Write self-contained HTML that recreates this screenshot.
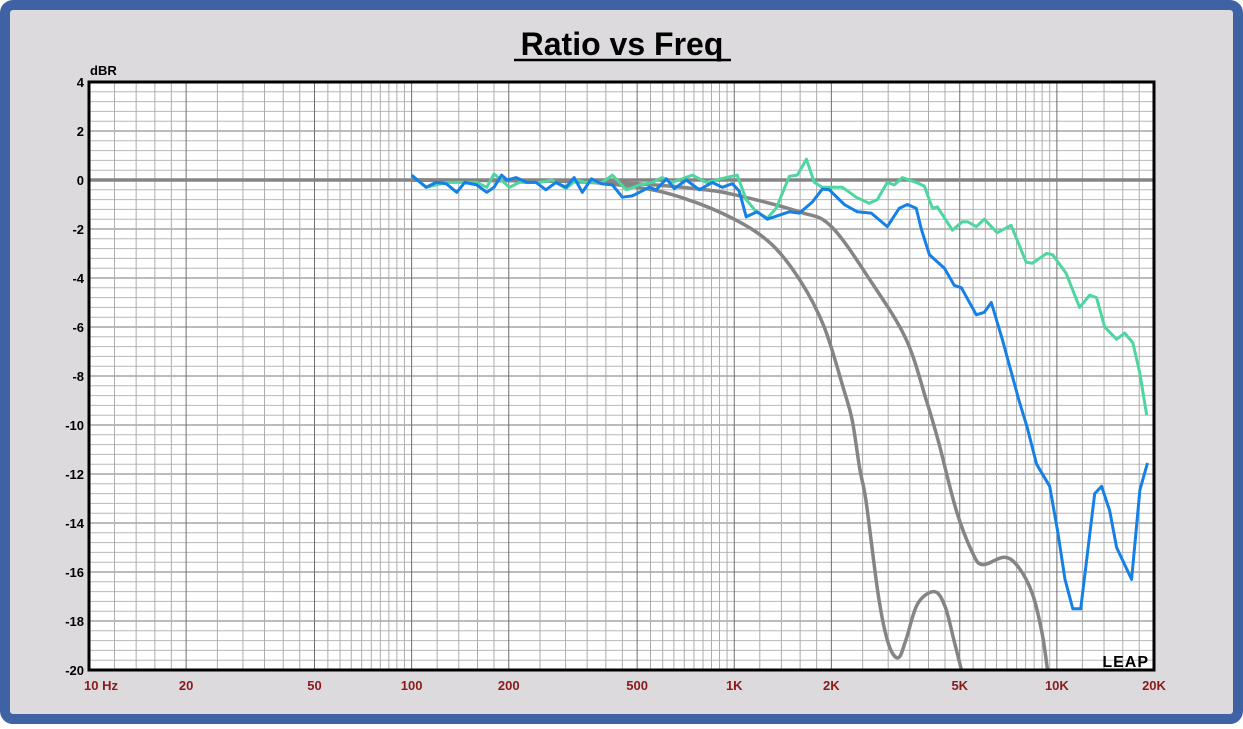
<!DOCTYPE html>
<html><head><meta charset="utf-8"><style>
html,body{margin:0;padding:0;background:#fff}
svg{display:block;font-family:"Liberation Sans",Arial,sans-serif}
</style></head><body>
<svg id="chart" width="1243" height="729" viewBox="0 0 1243 729">
<rect x="0" y="0" width="1243" height="729" fill="#ffffff"/>
<rect x="5" y="5" width="1233" height="714" rx="8" fill="#dcdadd" stroke="#3f62a4" stroke-width="10"/>
<text x="622" y="55" text-anchor="middle" font-size="32" font-weight="bold" fill="#000">Ratio vs Freq</text>
<line x1="514" y1="60" x2="731" y2="60" stroke="#000" stroke-width="2.5"/>
<text x="90" y="75" font-size="13" font-weight="bold" fill="#000">dBR</text>
<g id="plot"></g>
</svg>
<script>
const yTicks=[4,2,0,-2,-4,-6,-8,-10,-12,-14,-16,-18,-20];
const xTickVals=[10,20,50,100,200,500,1000,2000,5000,10000,20000];
const xTickLabels=["10  Hz","20","50","100","200","500","1K","2K","5K","10K","20K"];
const grayAFreq=[100,300,500,700,1000,1300,1600,1900,2190,2320,2450,2560,2800,3000,3220,3400,3700,4170,4500,4800,5060];
const grayADb=[0,-0.05,-0.3,-0.75,-1.6,-2.6,-4.1,-6.0,-8.6,-9.8,-11.8,-13.1,-17.0,-18.9,-19.5,-18.8,-17.3,-16.8,-17.4,-18.8,-20];
const grayBFreq=[100,300,500,780,1000,1590,2000,2670,3410,3940,4300,4880,5470,5880,6870,7600,8400,9000,9350];
const grayBDb=[0,-0.05,-0.15,-0.37,-0.6,-1.3,-1.9,-4.2,-6.5,-9,-10.7,-13.5,-15.2,-15.7,-15.4,-15.8,-16.9,-18.5,-20];
const blueFreq=[100,111,119,128,138,146,159,171,180,190,198,211,227,243,261,280,301,319,338,361,387,419,450,483,508,545,573,616,652,710,779,855,918,986,1036,1089,1178,1266,1481,1591,1745,1875,1970,2194,2406,2659,2981,3248,3442,3665,3801,4026,4481,4810,5059,5626,5957,6261,6775,7630,8090,8650,9500,10070,10600,11200,11850,13100,13760,14580,15320,17050,18080,19090];
const blueDb=[0.2,-0.3,-0.1,-0.15,-0.5,-0.1,-0.2,-0.5,-0.3,0.2,0,0.1,-0.1,-0.1,-0.4,-0.1,-0.3,0.1,-0.5,0.05,-0.15,-0.2,-0.7,-0.65,-0.5,-0.3,-0.4,0.05,-0.35,0,-0.4,-0.1,-0.3,-0.15,-0.45,-1.5,-1.3,-1.6,-1.3,-1.35,-0.9,-0.37,-0.4,-1.0,-1.3,-1.35,-1.9,-1.15,-1.0,-1.15,-2.0,-3.05,-3.6,-4.3,-4.4,-5.5,-5.4,-5.0,-6.5,-9.0,-10.1,-11.6,-12.5,-14.4,-16.3,-17.5,-17.5,-12.8,-12.5,-13.5,-15.0,-16.3,-12.65,-11.55];
const greenFreq=[100,111,128,146,159,171,180,201,216,249,272,301,324,348,390,419,463,508,557,598,642,741,819,945,1021,1089,1170,1266,1349,1481,1568,1673,1770,1875,2163,2387,2620,2775,2981,3134,3318,3665,3885,4112,4264,4743,5095,5280,5626,5957,6533,7215,8030,8390,9290,9700,10670,11760,12640,13270,14070,15320,16230,17200,18080,18990];
const greenDb=[0.2,-0.3,-0.1,-0.1,-0.1,-0.3,0.25,-0.3,-0.1,-0.1,0,-0.35,0,-0.1,-0.1,0.2,-0.4,-0.2,-0.1,0.1,-0.1,0.2,-0.1,0.1,0.2,-0.8,-1.3,-1.55,-1.15,0.15,0.2,0.85,-0.1,-0.3,-0.3,-0.7,-0.95,-0.8,-0.1,-0.2,0.1,-0.1,-0.25,-1.15,-1.1,-2.05,-1.7,-1.7,-1.9,-1.6,-2.15,-1.85,-3.35,-3.4,-3.0,-3.05,-3.8,-5.2,-4.7,-4.8,-6.0,-6.5,-6.25,-6.65,-7.9,-9.6];

const NS="http://www.w3.org/2000/svg";
const L=89,R=1154,T=82,B=670;
const fmin=10,fmax=20000,dmax=4,dmin=-20;
function xs(f){return L+(Math.log10(f)-Math.log10(fmin))/(Math.log10(fmax)-Math.log10(fmin))*(R-L);}
function ys(d){return T+(dmax-d)/(dmax-dmin)*(B-T);}
const g=document.getElementById('plot');
function mk(tag,attrs){const e=document.createElementNS(NS,tag);for(const k in attrs)e.setAttribute(k,attrs[k]);g.appendChild(e);return e;}

const bg=mk('rect',{x:L,y:T,width:R-L,height:B-T,fill:'#ffffff'});



for(let i=0;i<=60;i++){
  const d=dmax-i*0.4;
  const major=(i%5===0);
  const ln=mk('line',{x1:L,x2:R,y1:ys(d),y2:ys(d),stroke:major?'#7a7a7a':'#b8b8b8','stroke-width':1});
  
  
}
const mult=[1,1.2,1.4,1.6,1.8,2,2.5,3,3.5,4,4.5,5,5.5,6,6.5,7,7.5,8,8.5,9,9.5];
for(let dec=10;dec<=10000;dec*=10){
  for(const m of mult){
    const f=dec*m; if(f>fmax) continue;
    const major=(m===1||m===2||m===5);
    const ln=mk('line',{x1:xs(f),x2:xs(f),y1:T,y2:B,stroke:major?'#6e6e6e':'#acacac','stroke-width':1});
    
    
  }
}
const zl=mk('line',{x1:L,x2:R,y1:ys(0),y2:ys(0),stroke:'#858585','stroke-width':3.5});



function series(fr,db,color,name,w){
  const pts=fr.map((f,i)=>xs(f).toFixed(1)+','+ys(db[i]).toFixed(1)).join(' ');
  const p=mk('polyline',{points:pts,fill:'none',stroke:color,'stroke-width':w,'stroke-linejoin':'round'});
  
  
}
function smooth(fr,db,color,name,w){
  const P=fr.map((f,i)=>[xs(f),ys(db[i])]);
  let d='M'+P[0][0].toFixed(1)+','+P[0][1].toFixed(1);
  for(let i=0;i<P.length-1;i++){
    const p0=P[i-1]||P[i],p1=P[i],p2=P[i+1],p3=P[i+2]||P[i+1];
    const c1=[p1[0]+(p2[0]-p0[0])/6,p1[1]+(p2[1]-p0[1])/6];
    const c2=[p2[0]-(p3[0]-p1[0])/6,p2[1]-(p3[1]-p1[1])/6];
    d+=' C'+c1[0].toFixed(1)+','+c1[1].toFixed(1)+' '+c2[0].toFixed(1)+','+c2[1].toFixed(1)+' '+p2[0].toFixed(1)+','+p2[1].toFixed(1);
  }
  const p=mk('path',{d:d,fill:'none',stroke:color,'stroke-width':w});
  
  
}
smooth(grayAFreq,grayADb,'#858585','gray-curve-low',3.5);
smooth(grayBFreq,grayBDb,'#858585','gray-curve-high',3.5);
series(greenFreq,greenDb,'#4dd6a0','green-curve',3);
series(blueFreq,blueDb,'#1580e6','blue-curve',3);

const fr=mk('rect',{x:L,y:T,width:R-L,height:B-T,fill:'none',stroke:'#000','stroke-width':3});



yTicks.forEach(v=>{
  const t=mk('text',{x:L-5,y:ys(v)+5,'text-anchor':'end','font-size':13,'font-weight':'bold',fill:'#000'});
  t.textContent=String(v);
  
  
});
xTickVals.forEach((v,i)=>{
  const t=mk('text',{x:xs(v),y:690,'text-anchor':i===0?'start':'middle','font-size':13,'font-weight':'bold',fill:'#8b1a1a'});
  if(i===0){t.setAttribute('x',xs(v)-5);t.setAttribute('xml:space','preserve');}
  t.textContent=xTickLabels[i];
  
  
});
const lg=mk('text',{x:1149,y:667,'text-anchor':'end','font-size':16,'font-weight':'bold',fill:'#000','letter-spacing':'1'});
lg.textContent='LEAP';


</script>
</body></html>
